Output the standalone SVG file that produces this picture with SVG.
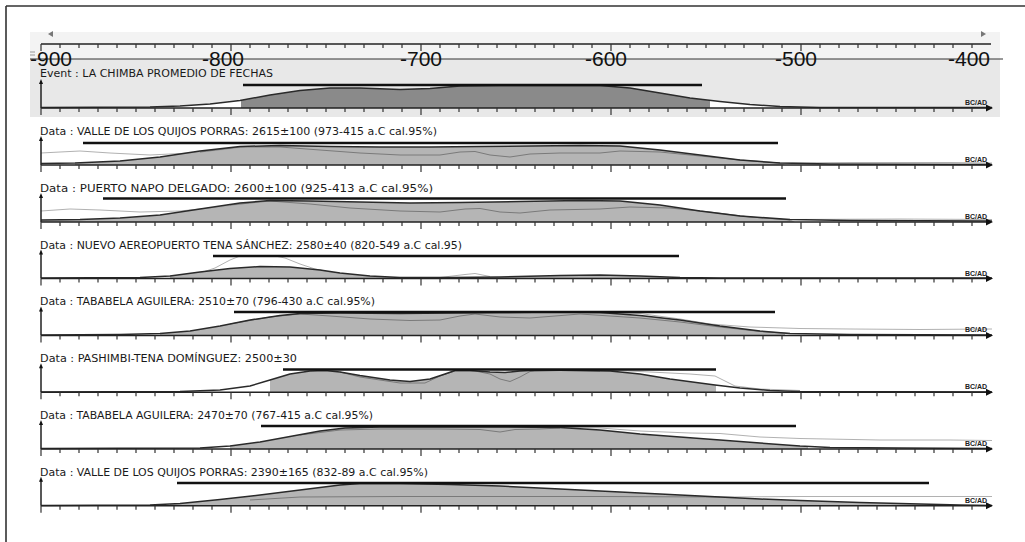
<svg xmlns="http://www.w3.org/2000/svg" xmlns:xlink="http://www.w3.org/1999/xlink" width="1025" height="542" viewBox="0 0 1025 542">
<style>
.lbl{font-family:"DejaVu Sans Condensed","Liberation Sans",sans-serif;font-size:11px;fill:#1a1a1a}
.big{font-family:"Liberation Sans",Arial,sans-serif;font-size:21px;fill:#111}
.bcad{font-family:"Liberation Sans",Arial,sans-serif;font-size:7px;font-weight:bold;fill:#222}
.ax{stroke:#222;stroke-width:1.5;fill:none}
.tk{stroke:#333;stroke-width:1.2;fill:none}
.bar{stroke:#111;stroke-width:2.6}
.fill{fill:#b5b5b5;stroke:none}
.efill{fill:#8a8a8a;stroke:none}
.wfill{fill:#fff;stroke:none}
.curve{fill:none;stroke:#2a2a2a;stroke-width:1.5;stroke-linejoin:round}
.raw{fill:none;stroke:#7a7a7a;stroke-width:1;stroke-linejoin:round}
.lt{fill:none;stroke:#a8a8a8;stroke-width:0.9;stroke-linejoin:round}
</style>
<defs>
<g id="ticks">
<path class="tk" d="M60,0v4M79,0v4M98,0v4M117,0v4M136,0v4M155,0v4M174,0v4M193,0v4M212,0v4M250,0v4M269,0v4M288,0v4M307,0v4M326,0v4M345,0v4M364,0v4M383,0v4M402,0v4M440,0v4M459,0v4M478,0v4M497,0v4M516,0v4M535,0v4M554,0v4M573,0v4M592,0v4M630,0v4M649,0v4M668,0v4M687,0v4M706,0v4M725,0v4M744,0v4M763,0v4M782,0v4M820,0v4M839,0v4M858,0v4M877,0v4M896,0v4M915,0v4M934,0v4M953,0v4M972,0v4"/>
<path class="tk" d="M41,0v7M231,0v7M421,0v7M611,0v7M801,0v7"/>
</g>
<g id="rowaxis">
<path class="ax" d="M41,0H988M41,0V-26"/>
<polygon points="986,-3.5 993,0 986,3.5" fill="#111"/>
<polygon points="39,-24 41,-29 43,-24" fill="#111"/>
<use xlink:href="#ticks"/>
<text class="bcad" x="965" y="-3">BC/AD</text>
</g>
</defs>

<rect x="0" y="0" width="1025" height="542" fill="#fff"/>
<path d="M6,6H1025M6,6V542" stroke="#333" stroke-width="1.6" fill="none"/>

<g id="ruler">
<rect x="30" y="32" width="970" height="27" fill="#f3f3f3"/>
<rect x="30" y="59" width="970" height="58" fill="#e8e8e8"/>
<polygon points="53,31 48,34 53,37" fill="#777"/>
<polygon points="981,31 986,34 981,37" fill="#777"/>
<path d="M30,52h5M30,55h5" stroke="#999" stroke-width="1"/>
<path class="ax" d="M41,44H991" stroke-width="1"/>
<use xlink:href="#ticks" transform="translate(0,44)"/>
<path d="M30,59H1003" stroke="#333" stroke-width="1"/>
<text class="big" x="30" y="66">-900</text>
<text class="big" x="202" y="66">-800</text>
<text class="big" x="400" y="66">-700</text>
<text class="big" x="585" y="66">-600</text>
<text class="big" x="775" y="66">-500</text>
<text class="big" x="948" y="66">-400</text>
</g>

<g id="event">
<text class="lbl" x="40" y="77" textLength="233" lengthAdjust="spacingAndGlyphs">Event : LA CHIMBA PROMEDIO DE FECHAS</text>
<path class="wfill" d="M150,108L150,107L180,106L210,104L241,100.5L241,108Z"/>
<path class="efill" d="M241,108L241,100.5L270,95L300,90.5L330,88L360,88L400,89.5L430,88.5L460,86L500,85.5L560,85.5L600,85.5L630,88L660,93L690,98L710,100.5L710,108Z"/>
<path class="wfill" d="M710,108L710,100.5L720,101.5L750,104.5L780,106.5L800,107.5L800,108Z"/>
<path class="curve" d="M41,107.5L150,107L180,106L210,104L240,100.5L270,95L300,90.5L330,88L360,88L400,89.5L430,88.5L460,86L500,85.5L560,85.5L600,85.5L630,88L660,93L690,98L720,101.5L750,104.5L780,106.5L820,107.5L992,107.5"/>
<line class="bar" x1="243" y1="85" x2="702" y2="85"/>
<use xlink:href="#rowaxis" transform="translate(0,108)"/>
</g>

<g id="row1">
<text class="lbl" x="40" y="135" textLength="397" lengthAdjust="spacingAndGlyphs">Data : VALLE DE LOS QUIJOS PORRAS: 2615±100 (973-415 a.C cal.95%)</text>
<path class="fill" d="M75,165L75,163L120,161L160,157L200,151L240,146.5L280,145.5L330,146.5L380,147L430,147L480,146.5L530,146L580,145.5L620,146L660,150L700,155L740,160L780,163L785,165Z"/>
<path class="lt" d="M41,153L60,152L80,151L110,153L150,155L190,153L220,150L245,147M780,163L850,162.5L950,162.5L992,163"/>
<path class="raw" d="M200,152L240,147L280,147L320,150L360,153L400,155L440,155L460,152L475,151.5L490,155L510,157L530,154L560,153L600,153L620,151L660,152L700,156L740,160L780,163"/>
<path class="curve" d="M41,163.5L75,163L120,161L160,157L200,151L240,146.5L280,145.5L330,146.5L380,147L430,147L480,146.5L530,146L580,145.5L620,146L660,150L700,155L740,160L780,163L830,164L992,164.5"/>
<line class="bar" x1="83" y1="143" x2="778" y2="143"/>
<use xlink:href="#rowaxis" transform="translate(0,165)"/>
</g>

<g id="row2">
<text class="lbl" x="40" y="192" textLength="393" lengthAdjust="spacingAndGlyphs">Data : PUERTO NAPO DELGADO: 2600±100 (925-413 a.C cal.95%)</text>
<path class="fill" d="M41,222L41,220L80,219.5L120,218L160,215L200,209L240,203L270,200.5L310,201L360,202L410,203L460,202.5L520,201.5L580,200.5L620,201L660,205L700,211L740,216L790,219.5L795,222Z"/>
<path class="lt" d="M41,211L70,209L100,210L140,212L180,211L220,207L260,201.5M790,219.5L900,219L992,219.5"/>
<path class="raw" d="M230,205L270,201L310,204L350,208L400,211L440,212L465,209L480,208.5L500,212L520,213L550,210L600,209L630,207L670,208L710,212L750,217L790,220"/>
<path class="curve" d="M41,220L80,219.5L120,218L160,215L200,209L240,203L270,200.5L310,201L360,202L410,203L460,202.5L520,201.5L580,200.5L620,201L660,205L700,211L740,216L790,219.5L850,220.5L992,221"/>
<line class="bar" x1="103" y1="198.5" x2="786" y2="198.5"/>
<use xlink:href="#rowaxis" transform="translate(0,222)"/>
</g>

<g id="row3">
<text class="lbl" x="40" y="248.5" textLength="422" lengthAdjust="spacingAndGlyphs">Data : NUEVO AEREOPUERTO TENA SÁNCHEZ: 2580±40 (820-549 a.C cal.95)</text>
<path class="fill" d="M170,278.6L170,276L200,272L230,268.5L260,266.5L290,267L320,270L340,273L370,276L400,277.5L450,277.5L500,277L560,275.5L600,275L640,276L680,277.5L720,278L720,278.6Z"/>
<path class="lt" d="M200,273L215,268L230,260L240,256L250,255.5L275,256L285,258L300,264L315,269L335,273M440,277.5L465,274.5L475,273.5L490,276.5"/>
<path class="curve" d="M41,278L140,277.5L170,276L200,272L230,268.5L260,266.5L290,267L320,270L340,273L370,276L400,277.5L450,277.5L500,277L560,275.5L600,275L640,276L680,277.5L720,278L992,278"/>
<line class="bar" x1="213" y1="256" x2="679" y2="256"/>
<use xlink:href="#rowaxis" transform="translate(0,278.6)"/>
</g>

<g id="row4">
<text class="lbl" x="40" y="305.4" textLength="335" lengthAdjust="spacingAndGlyphs">Data : TABABELA AGUILERA: 2510±70 (796-430 a.C cal.95%)</text>
<path class="fill" d="M160,335.4L160,333.5L190,331L220,326L250,320L280,315.5L300,313.5L340,313L400,313.5L450,313L500,312.5L560,312L600,312.5L640,315.5L680,320L720,326L760,331L785,333.5L785,335.4Z"/>
<path class="lt" d="M600,312.5L640,313.5L680,319L710,324L750,327L800,328.5L850,329L920,329.5L992,329"/>
<path class="raw" d="M230,324L270,317L300,314L330,316L370,319L410,320.5L440,320L460,316L475,314L500,317L530,318L580,314L610,316L640,318L680,322L720,327L760,331.5L790,333.5"/>
<path class="curve" d="M41,335L120,334.5L160,333.5L190,331L220,326L250,320L280,315.5L300,313.5L340,313L400,313.5L450,313L500,312.5L560,312L600,312.5L640,315.5L680,320L720,326L760,331L790,333.5L850,334.5L992,335"/>
<line class="bar" x1="234" y1="312" x2="775" y2="312"/>
<use xlink:href="#rowaxis" transform="translate(0,335.4)"/>
</g>

<g id="row5">
<text class="lbl" x="40" y="362.2" textLength="257" lengthAdjust="spacingAndGlyphs">Data : PASHIMBI-TENA DOMÍNGUEZ: 2500±30</text>
<path class="fill" d="M270,392.2L270,380L290,374L310,371L325,370.5L340,372L360,375.5L390,380L410,381.5L430,379L445,374L455,370.5L470,370.5L490,372L505,372.5L520,371L540,370L580,370.5L610,371L640,374L670,379L700,383L716,385L716,392.2Z"/>
<path class="lt" d="M600,370L640,371.5L690,374L715,376L725,381L735,386L760,389L800,390.5"/>
<path class="raw" d="M340,372L360,377L380,380L400,383L425,383L440,376L455,371L475,371L490,374L500,379L510,381.5L520,377L530,371.5L560,370.5L600,371"/>
<path class="curve" d="M41,392L180,391.5L220,390L250,386L270,380L290,374L310,371L325,370.5L340,372L360,375.5L390,380L410,381.5L430,379L445,374L455,370.5L470,370.5L490,372L505,372.5L520,371L540,370L580,370.5L610,371L640,374L670,379L700,383L715,385L740,388L770,390.5L800,391.5L992,392"/>
<line class="bar" x1="283" y1="369.5" x2="716" y2="369.5"/>
<use xlink:href="#rowaxis" transform="translate(0,392.2)"/>
</g>

<g id="row6">
<text class="lbl" x="40" y="419" textLength="333" lengthAdjust="spacingAndGlyphs">Data : TABABELA AGUILERA: 2470±70 (767-415 a.C cal.95%)</text>
<path class="fill" d="M230,449L230,446L260,442L290,436.5L320,431L345,428L380,427L440,427L500,427L560,427.5L600,430L640,434L680,437L720,440L760,443L800,446L808,446.5L808,449Z"/>
<path class="lt" d="M560,427.5L600,428L640,431L690,433L720,433.5L760,437L800,438.5L880,440L950,440L992,440.5"/>
<path class="raw" d="M300,435L340,430L380,429L440,429L480,429.5L500,432L515,429.5L540,429L560,428"/>
<path class="curve" d="M41,448.5L200,448L230,446L260,442L290,436.5L320,431L345,428L380,427L440,427L500,427L560,427.5L600,430L640,434L680,437L720,440L760,443L800,446L830,447.5L900,448L992,448.5"/>
<line class="bar" x1="261" y1="426" x2="796" y2="426"/>
<use xlink:href="#rowaxis" transform="translate(0,449)"/>
</g>

<g id="row7">
<text class="lbl" x="40" y="475.8" textLength="388" lengthAdjust="spacingAndGlyphs">Data : VALLE DE LOS QUIJOS PORRAS: 2390±165 (832-89 a.C cal.95%)</text>
<path class="fill" d="M170,505.8L170,504L180,503.5L220,499.5L260,495L300,490L340,485L360,483.5L400,483.5L450,484.5L500,486L560,489L620,492L680,495L720,497L760,499L800,500.5L860,502.5L920,504L948,504.5L948,505.8Z"/>
<path class="lt" d="M720,497L800,496.5L900,496.5L992,496.5"/>
<path class="raw" d="M250,500L300,497L400,496.5L500,496.5L600,496.5L720,497"/>
<path class="curve" d="M41,505.5L150,505L180,503.5L220,499.5L260,495L300,490L340,485L360,483.5L400,483.5L450,484.5L500,486L560,489L620,492L680,495L720,497L760,499L800,500.5L860,502.5L920,504L960,505L992,505.5"/>
<line class="bar" x1="177" y1="483" x2="929" y2="483"/>
<use xlink:href="#rowaxis" transform="translate(0,505.8)"/>
</g>
</svg>
